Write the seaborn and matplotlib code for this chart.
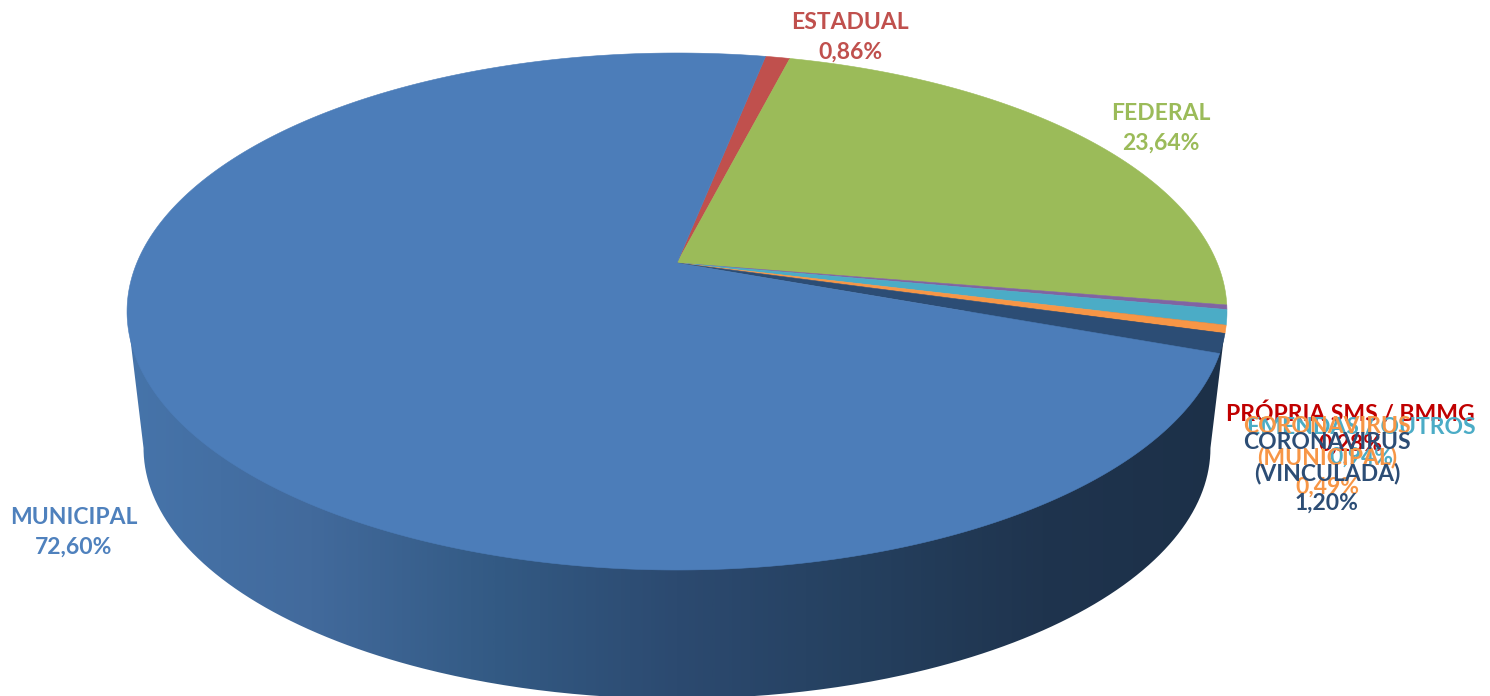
import numpy as np
import matplotlib
matplotlib.use("Agg")
import matplotlib.pyplot as plt
from matplotlib.colors import LinearSegmentedColormap
from matplotlib.patches import PathPatch
from matplotlib.path import Path
import seaborn as sns

# --- data ---
categories = ["ESTADUAL", "FEDERAL", "PRÓPRIA SMS / BMMG", "EMENDAS / OUTROS",
              "CORONAVIRUS\n(MUNICIPAL)", "CORONAVIRUS\n(VINCULADA)", "MUNICIPAL"]
values = [0.86, 23.64, 0.28, 0.94, 0.49, 1.20, 72.60]
value_labels = ["0,86%", "23,64%", "0,28%", "0,94%", "0,49%", "1,20%", "72,60%"]

# --- style ---
slice_colors = ["#C0504D", "#9BBB59", "#8064A2", "#4BACC6", "#F79646", "#2C4D75", "#4C7DB9"]
label_colors = ["#C0504D", "#9BBB59", "#C00000", "#4BACC6", "#F79646", "#2C4D75", "#4F81BD"]
label_centres = [(850, 37), (1161, 128), (1350, 429), (1361, 442),
                 (1327, 457), (1327, 473), (74, 532)]
wall_stops = ["#4674AA", "#426A9C", "#335A84", "#2C4A70", "#25405F", "#1F344E", "#1C3048"]
START_ANGLE = 11.2

sns.set_theme(style="white")
plt.rcParams["font.family"] = ["Lato", "DejaVu Sans"]

# perspective pie geometry, pixels of the figure
CX, CY, A, B, K = 677.0, 263.0, 540.2, 249.4, 0.1876
S, DY = 0.97, 145.8


def top(theta):
    u, v = np.sin(theta), np.cos(theta)
    w = 1 + K * v
    return CX + A * u / w, CY - B * v / w


def bottom(theta):
    x, y = top(theta)
    return CX + (x - CX) * S, y * S + DY


fig = plt.figure(figsize=(14.9, 6.96), dpi=100)
ax = fig.add_axes([0, 0, 1, 1])
ax.axis("off")

# side wall, with its left-to-right shading
t0 = np.pi / 2 + np.arcsin(K)
arc = np.linspace(t0, 2 * np.pi - t0, 400)
bx, by = bottom(arc)
rx, ry = top(np.array([t0]))
lx, ly = top(np.array([2 * np.pi - t0]))
wall = np.vstack([np.column_stack([rx, ry]), np.column_stack([bx, by]),
                  np.column_stack([lx, ly]), np.column_stack([rx, ry])])
wall_patch = PathPatch(Path(wall), facecolor="none", edgecolor="none")
ax.add_patch(wall_patch)
cmap = LinearSegmentedColormap.from_list("wall", wall_stops)
grad = np.linspace(0, 1, 512).reshape(1, -1)
im = ax.imshow(grad, cmap=cmap, aspect="auto", extent=[127, 1227, 700, 300], zorder=1)
ax.set_xlim(0, 1490)
ax.set_ylim(696, 0)
im.set_clip_path(wall_patch)

# top face: each slice's sweep comes from its value
total = sum(values)
angle = np.radians(START_ANGLE)
for val, col in zip(values, slice_colors):
    sweep = 2 * np.pi * val / total
    th = np.linspace(angle, angle + sweep, max(int(sweep * 200), 8))
    x, y = top(th)
    ax.fill(np.r_[CX, x], np.r_[CY, y], color=col, lw=0.4, zorder=2)
    angle += sweep

# labels
for name, pct, col, (tx, ty) in zip(categories, value_labels, label_colors, label_centres):
    ax.text(tx, ty, f"{name}\n{pct}", color=col, ha="center", va="center",
            fontsize=16.5, fontweight="bold", linespacing=1.5, zorder=5)

fig.savefig("out.png", dpi=100)
